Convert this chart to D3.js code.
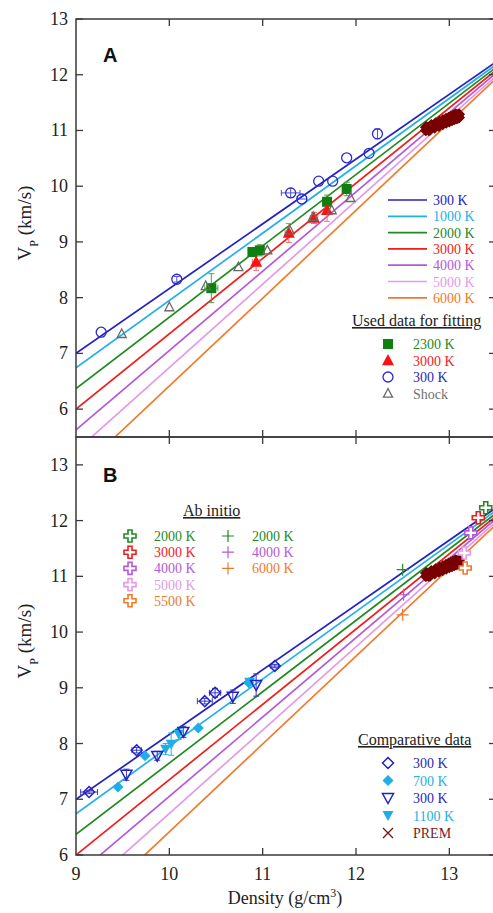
<!DOCTYPE html>
<html lang="en">
<head>
<meta charset="UTF-8">
<title>Vp vs density</title>
<script src="https://d3js.org/d3.v7.min.js"></script>
<style>
  body { margin: 0; padding: 0; background: #fff; }
  svg { display: block; font-family: "Liberation Serif", "Times New Roman", serif; }
  .frame { fill: none; stroke: #3a3a3a; stroke-width: 1.5px; }
  .ticklab { font-size: 18px; fill: #222; }
  .leg { font-size: 14px; }
  .head { font-size: 16px; fill: #222; text-decoration: underline; }
</style>
</head>
<body>
<div id="chart"></div>
<script>
// isotherm fits: Vp at rho = 9 and at rho = 13.5
const tempLabels = ["300 K", "1000 K", "2000 K", "3000 K", "4000 K", "5000 K", "6000 K"];
const tempColors = ["#2222c4", "#22b0e8", "#1f8a1f", "#f01c1c", "#b45ad8", "#e49ae6", "#f07a2a"];
const vpAt9   = [7.00, 6.74, 6.37, 6.00, 5.63, 5.25, 4.84];
const vpAt135 = [12.23, 12.18, 12.13, 12.08, 12.03, 11.98, 11.93];

// panel A: data used for fitting
const c300Rho = [9.27, 10.08, 11.30, 11.42, 11.60, 11.75, 11.90, 12.14, 12.23];
const c300Vp  = [7.38, 8.33, 9.88, 9.77, 10.09, 10.09, 10.51, 10.59, 10.94];
const c300ErrV   = [0, 0.05, 0.08, 0, 0, 0, 0, 0, 0.09];
const c300ErrRho = [0, 0, 0.10, 0.05, 0, 0, 0, 0, 0];

const s2300Rho = [10.45, 10.89, 10.97, 11.69, 11.90];
const s2300Vp  = [8.17, 8.82, 8.85, 9.72, 9.95];
const s2300ErrV   = [0.26, 0.05, 0.10, 0.12, 0.12];
const s2300ErrRho = [0.07, 0.04, 0.04, 0, 0];

const t3000Rho = [10.93, 11.28, 11.55, 11.69];
const t3000Vp  = [8.64, 9.16, 9.43, 9.57];
const t3000ErrV   = [0.15, 0.17, 0.10, 0.20];
const t3000ErrRho = [0.04, 0.04, 0.04, 0];

const shockRho = [9.49, 10.00, 10.39, 10.74, 11.05, 11.29, 11.54, 11.74, 11.94];
const shockVp  = [7.35, 7.83, 8.21, 8.55, 8.85, 9.21, 9.45, 9.57, 9.79];

// PREM inner core
const premRho = [13.0885, 13.0863, 13.0798, 13.0689, 13.0537, 13.0341, 13.0101, 12.9818, 12.9491, 12.9121, 12.8707, 12.8250, 12.7749, 12.7636];
const premVp  = [11.2622, 11.2606, 11.2559, 11.2481, 11.2371, 11.2230, 11.2058, 11.1854, 11.1618, 11.1352, 11.1054, 11.0725, 11.0364, 11.0283];

// panel B: comparative data
const d300Rho = [9.14, 9.65, 10.38, 10.49, 11.13];
const d300Vp  = [7.13, 7.88, 8.76, 8.91, 9.39];
const d300ErrRho = [0.09, 0.05, 0.08, 0.06, 0.04];
const d300ErrV   = [0.03, 0.05, 0.05, 0.08, 0.03];

const d700Rho = [9.45, 9.74, 10.31, 10.85];
const d700Vp  = [7.22, 7.78, 8.28, 9.09];

const v300Rho = [9.54, 9.87, 10.15, 10.68, 10.93];
const v300Vp  = [7.44, 7.78, 8.21, 8.84, 9.05];
const v300ErrV = [0.10, 0.08, 0.10, 0.12, 0.20];

const v1100Rho = [9.96, 10.02, 10.10, 10.86];
const v1100Vp  = [7.90, 7.99, 8.17, 9.10];
const v1100ErrV = [0.10, 0.20, 0.10, 0.05];

// ab initio
const abLabels = ["2000 K", "3000 K", "4000 K", "5000 K", "5500 K"];
const abColors = ["#1f8a1f", "#f01c1c", "#b45ad8", "#e49ae6", "#f07a2a"];
const abRho = [13.39, 13.31, 13.23, 13.16, 13.17];
const abVp  = [12.23, 12.05, 11.78, 11.42, 11.15];

const plusLabels = ["2000 K", "4000 K", "6000 K"];
const plusColors = ["#1f8a1f", "#b45ad8", "#f07a2a"];
const plusRho = [12.50, 12.51, 12.50];
const plusVp  = [11.12, 10.67, 10.31];

const xTicks = [9, 10, 11, 12, 13];

const W = 493, H = 913;
const svg = d3.select("#chart").append("svg").attr("width", W).attr("height", H);

const x = d3.scaleLinear().domain([9, 13.5]).range([76, 496]);
const yA = d3.scaleLinear().domain([5.5, 13]).range([437, 19]);
const yB = d3.scaleLinear().domain([6, 13.5]).range([855, 437]);

// marker shapes
function shape(type, s) {
  const h = s / 2;
  switch (type) {
    case "square": return `M${-h},${-h}H${h}V${h}H${-h}Z`;
    case "tri": return `M0,${-h * 1.1}L${h},${h * 0.8}L${-h},${h * 0.8}Z`;
    case "dtri": return `M0,${h * 1.0}L${h},${-h * 0.8}L${-h},${-h * 0.8}Z`;
    case "diamond": return `M0,${-h}L${h},0L0,${h}L${-h},0Z`;
    case "plus": return `M${-h},0H${h}M0,${-h}V${h}`;
    case "x": return `M${-h},${-h}L${h},${h}M${-h},${h}L${h},${-h}`;
    case "ocross": {
      const a = s / 6;
      return `M${-a},${-h}H${a}V${-a}H${h}V${a}H${a}V${h}H${-a}V${a}H${-h}V${-a}H${-a}Z`;
    }
  }
}

function drawMarker(g, type, cx, cy, o) {
  if (type === "circle") {
    g.append("circle").attr("cx", cx).attr("cy", cy).attr("r", o.size / 2)
      .attr("fill", o.fill || "#fff").attr("stroke", o.stroke).attr("stroke-width", o.sw || 1.3);
  } else {
    g.append("path").attr("d", shape(type, o.size))
      .attr("transform", `translate(${cx},${cy})`)
      .attr("fill", o.fill || "none").attr("stroke", o.stroke || "none")
      .attr("stroke-width", o.sw || 1.3).attr("stroke-linejoin", "miter");
  }
}

function errBars(g, y, rho, vp, errV, errRho, color) {
  rho.forEach((r, i) => {
    const cx = x(r), cy = y(vp[i]);
    if (errV && errV[i] > 0) {
      const y1 = y(vp[i] + errV[i]), y2 = y(vp[i] - errV[i]);
      g.append("path").attr("d", `M${cx},${y1}V${y2}M${cx - 3},${y1}H${cx + 3}M${cx - 3},${y2}H${cx + 3}`)
        .attr("stroke", color).attr("stroke-width", 1).attr("fill", "none");
    }
    if (errRho && errRho[i] > 0) {
      const x1 = x(r - errRho[i]), x2 = x(r + errRho[i]);
      g.append("path").attr("d", `M${x1},${cy}H${x2}M${x1},${cy - 3}V${cy + 3}M${x2},${cy - 3}V${cy + 3}`)
        .attr("stroke", color).attr("stroke-width", 1).attr("fill", "none");
    }
  });
}

function series(g, y, type, rho, vp, o) {
  rho.forEach((r, i) => drawMarker(g, type, x(r), y(vp[i]), o));
}

function panel(y, id, yTicks, top, bottom) {
  const root = svg.append("g");
  root.append("clipPath").attr("id", id).append("rect")
    .attr("x", 76).attr("y", top).attr("width", 420).attr("height", bottom - top);
  const g = root.append("g").attr("clip-path", `url(#${id})`);

  const line = d3.line().x(d => x(d[0])).y(d => y(d[1]));
  tempLabels.forEach((t, i) => {
    g.append("path").datum([[9, vpAt9[i]], [13.5, vpAt135[i]]])
      .attr("d", line).attr("fill", "none")
      .attr("stroke", tempColors[i]).attr("stroke-width", 1.7);
  });

  // PREM band (dense crosses)
  series(g, y, "x", premRho, premVp, { size: 9, stroke: "#780000", sw: 8 });

  // axes
  root.append("rect").attr("class", "frame")
    .attr("x", 76).attr("y", top).attr("width", 420).attr("height", bottom - top);
  const ax = root.append("g");
  yTicks.forEach(v => {
    ax.append("line").attr("x1", 76).attr("x2", 83).attr("y1", y(v)).attr("y2", y(v))
      .attr("stroke", "#3a3a3a").attr("stroke-width", 1.3);
    ax.append("line").attr("x1", 489).attr("x2", 496).attr("y1", y(v)).attr("y2", y(v))
      .attr("stroke", "#3a3a3a").attr("stroke-width", 1.3);
    ax.append("text").attr("class", "ticklab").attr("x", 68).attr("y", y(v) + 6)
      .attr("text-anchor", "end").text(v);
  });
  xTicks.slice(1).forEach(v => {
    ax.append("line").attr("x1", x(v)).attr("x2", x(v)).attr("y1", top).attr("y2", top + 7)
      .attr("stroke", "#3a3a3a").attr("stroke-width", 1.3);
    ax.append("line").attr("x1", x(v)).attr("x2", x(v)).attr("y1", bottom).attr("y2", bottom - 7)
      .attr("stroke", "#3a3a3a").attr("stroke-width", 1.3);
  });

  // y label
  const cy = y((y.domain()[0] + y.domain()[1]) / 2) - 5;
  const lab = root.append("text").attr("transform", `translate(31,${cy}) rotate(-90)`)
    .attr("text-anchor", "middle").style("font-size", "19px").attr("fill", "#222");
  lab.append("tspan").text("V");
  lab.append("tspan").attr("baseline-shift", "sub").style("font-size", "12px").text("P");
  lab.append("tspan").text(" (km/s)");

  return g;
}

// ---------- panel A ----------
const gA = panel(yA, "clipA", [6, 7, 8, 9, 10, 11, 12, 13], 19, 437);

errBars(gA, yA, s2300Rho, s2300Vp, s2300ErrV, s2300ErrRho, "#5a9a5a");
errBars(gA, yA, t3000Rho, t3000Vp, t3000ErrV, t3000ErrRho, "#f07070");
errBars(gA, yA, c300Rho, c300Vp, c300ErrV, c300ErrRho, "#5050d0");
series(gA, yA, "square", s2300Rho, s2300Vp, { size: 10, fill: "#0f7f0f" });
series(gA, yA, "tri", t3000Rho, t3000Vp, { size: 12, fill: "#ff1010" });
series(gA, yA, "circle", c300Rho, c300Vp, { size: 10, stroke: "#2a2ad0", fill: "none", sw: 1.3 });
series(gA, yA, "tri", shockRho, shockVp, { size: 9, stroke: "#6a6a6a", sw: 1.3 });

svg.append("text").attr("x", 103).attr("y", 62)
  .style("font-family", "'Liberation Sans', Arial, sans-serif").style("font-weight", "bold")
  .style("font-size", "20px").attr("fill", "#111").text("A");

// isotherm legend
const legA = svg.append("g");
tempLabels.forEach((t, i) => {
  const ly = 200 + i * 16.3;
  legA.append("line").attr("x1", 388).attr("x2", 427).attr("y1", ly).attr("y2", ly)
    .attr("stroke", tempColors[i]).attr("stroke-width", 1.7);
  legA.append("text").attr("class", "leg").attr("x", 433).attr("y", ly + 5)
    .attr("fill", tempColors[i]).text(t);
});
legA.append("text").attr("class", "head").attr("x", 352).attr("y", 326).text("Used data for fitting");
const usedItems = [
  ["square", { size: 10, fill: "#0f7f0f" }, "2300 K", "#1f8a1f"],
  ["tri", { size: 12, fill: "#ff1010" }, "3000 K", "#f01c1c"],
  ["circle", { size: 10, stroke: "#2a2ad0", fill: "none" }, "300 K", "#2a2ab8"],
  ["tri", { size: 9, stroke: "#6a6a6a" }, "Shock", "#707070"]
];
usedItems.forEach((d, i) => {
  const ly = 344 + i * 16.5;
  drawMarker(legA, d[0], 388, ly, d[1]);
  legA.append("text").attr("class", "leg").attr("x", 413).attr("y", ly + 5).attr("fill", d[3]).text(d[2]);
});

// ---------- panel B ----------
const gB = panel(yB, "clipB", [6, 7, 8, 9, 10, 11, 12, 13], 437, 855);

errBars(gB, yB, d300Rho, d300Vp, d300ErrV, d300ErrRho, "#3a3ac0");
errBars(gB, yB, v300Rho, v300Vp, v300ErrV, null, "#3a3ac0");
errBars(gB, yB, v1100Rho, v1100Vp, v1100ErrV, null, "#30b0e8");
series(gB, yB, "diamond", d700Rho, d700Vp, { size: 11, fill: "#1eaee8" });
series(gB, yB, "dtri", v1100Rho, v1100Vp, { size: 11, fill: "#1eaee8" });
series(gB, yB, "diamond", d300Rho, d300Vp, { size: 11, stroke: "#2222c4", sw: 1.5 });
series(gB, yB, "dtri", v300Rho, v300Vp, { size: 11, stroke: "#2222c4", sw: 1.5 });
abRho.forEach((r, i) => drawMarker(gB, "ocross", x(r), yB(abVp[i]), { size: 12, stroke: abColors[i], fill: "#fff", sw: 1.6 }));
plusRho.forEach((r, i) => drawMarker(gB, "plus", x(r), yB(plusVp[i]), { size: 12, stroke: plusColors[i], sw: 1.2 }));

svg.append("text").attr("x", 103).attr("y", 482)
  .style("font-family", "'Liberation Sans', Arial, sans-serif").style("font-weight", "bold")
  .style("font-size", "20px").attr("fill", "#111").text("B");

const legB = svg.append("g");
legB.append("text").attr("class", "head").attr("x", 183).attr("y", 516).text("Ab initio");
abLabels.forEach((t, i) => {
  const ly = 536 + i * 16.2;
  drawMarker(legB, "ocross", 130, ly, { size: 12, stroke: abColors[i], fill: "#fff", sw: 1.6 });
  legB.append("text").attr("class", "leg").attr("x", 154).attr("y", ly + 5).attr("fill", abColors[i]).text(t);
});
plusLabels.forEach((t, i) => {
  const ly = 536 + i * 16.2;
  drawMarker(legB, "plus", 228, ly, { size: 12, stroke: plusColors[i], sw: 1.2 });
  legB.append("text").attr("class", "leg").attr("x", 252).attr("y", ly + 5).attr("fill", plusColors[i]).text(t);
});

legB.append("text").attr("class", "head").attr("x", 358).attr("y", 745).text("Comparative data");
const compItems = [
  ["diamond", { size: 11, stroke: "#2222c4", sw: 1.5 }, "300 K", "#2a2ab8"],
  ["diamond", { size: 11, fill: "#1eaee8" }, "700 K", "#22b0e8"],
  ["dtri", { size: 11, stroke: "#2222c4", sw: 1.5 }, "300 K", "#2a2ab8"],
  ["dtri", { size: 11, fill: "#1eaee8" }, "1100 K", "#22b0e8"],
  ["x", { size: 10, stroke: "#7a1010", sw: 1.3 }, "PREM", "#7a1a1a"]
];
compItems.forEach((d, i) => {
  const ly = 763 + i * 17.5;
  drawMarker(legB, d[0], 388, ly, d[1]);
  legB.append("text").attr("class", "leg").attr("x", 413).attr("y", ly + 5).attr("fill", d[3]).text(d[2]);
});

// x tick labels and title
xTicks.forEach(v => {
  svg.append("text").attr("class", "ticklab").attr("x", x(v)).attr("y", 880)
    .attr("text-anchor", "middle").text(v);
});
const xl = svg.append("text").attr("x", 285).attr("y", 904).attr("text-anchor", "middle")
  .style("font-size", "18px").attr("fill", "#222");
xl.append("tspan").text("Density (g/cm");
xl.append("tspan").attr("baseline-shift", "super").style("font-size", "12px").text("3");
xl.append("tspan").text(")");
</script>
</body>
</html>
